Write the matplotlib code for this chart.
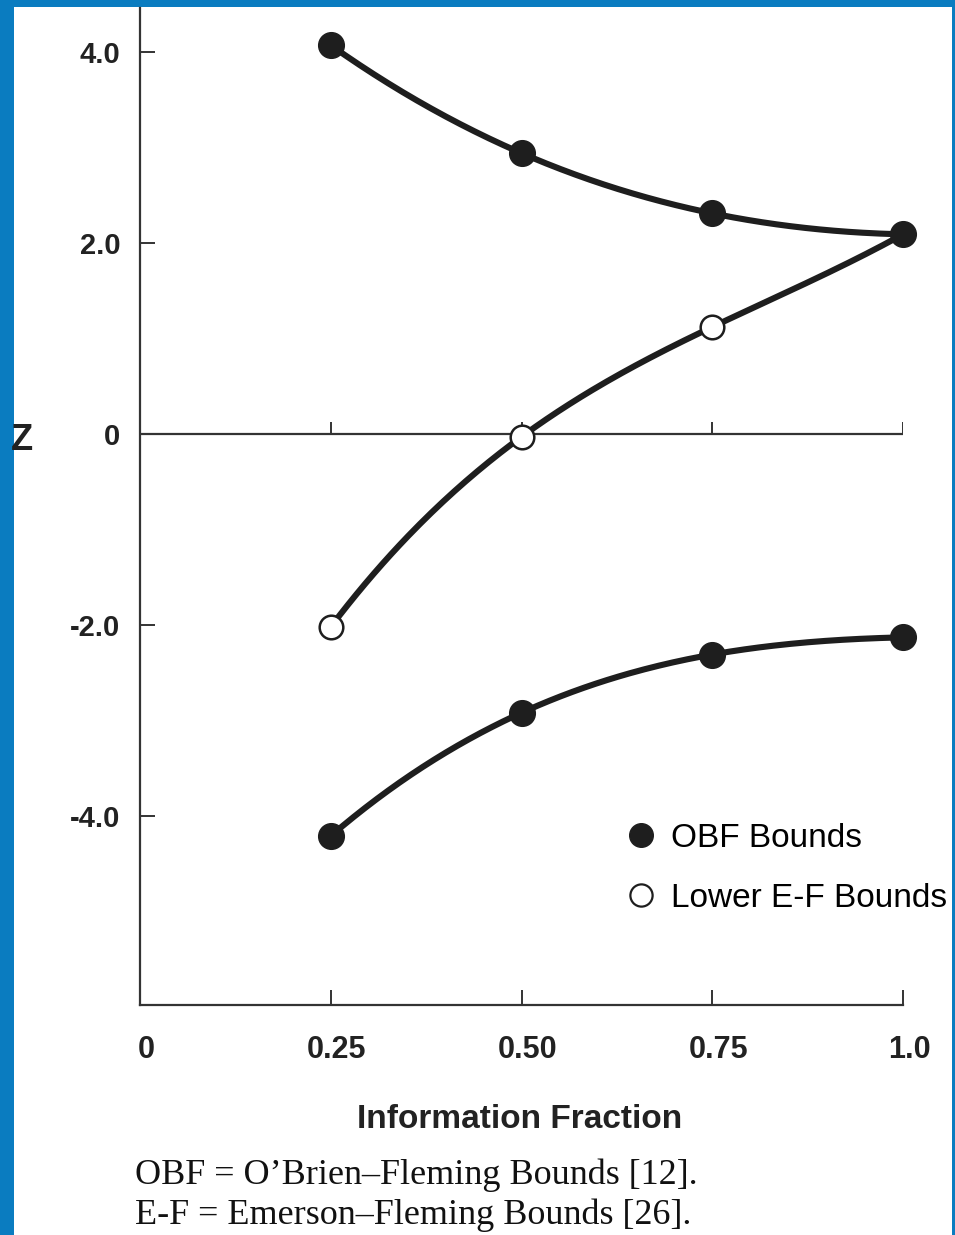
import numpy as np
import matplotlib

matplotlib.use("Agg")
import matplotlib.pyplot as plt
from matplotlib.lines import Line2D
from matplotlib.patches import Rectangle

# --------------------------------------------------------------------------- #
#  Data
# --------------------------------------------------------------------------- #
info_frac = [0.25, 0.50, 0.75, 1.0]
obf_upper = [4.07, 2.94, 2.31, 2.09]
obf_lower = [-4.21, -2.92, -2.31, -2.13]
ef_lower = [-2.02, -0.03, 1.12, 2.09]

x_ticks = [0, 0.25, 0.50, 0.75, 1.0]
x_ticklabels = ["0", "0.25", "0.50", "0.75", "1.0"]
y_ticks = [-4.0, -2.0, 0, 2.0, 4.0]
y_ticklabels = ["-4.0", "-2.0", "0", "2.0", "4.0"]

INK = "#1e1e1e"
AXC = "#333333"
BLUE = "#0a7cc0"
SANS = ["Liberation Sans", "DejaVu Sans"]
W, H = 955, 1235


def smooth(x, y, n=200):
    # cubic through the four plotted points, just for a smooth stroke
    c = np.polyfit(x, y, len(x) - 1)
    xs = np.linspace(min(x), max(x), n)
    return xs, np.polyval(c, xs)


fig = plt.figure(figsize=(W / 100, H / 100), dpi=100)
fig.patch.set_facecolor(BLUE)
fig.add_artist(Rectangle((14 / W, 0), (952 - 14) / W, (H - 7) / H,
                         transform=fig.transFigure, facecolor="white",
                         edgecolor="none", zorder=0))

ax = fig.add_axes([140 / W, (H - 1005) / H, (903 - 140) / W, (1005 - 8) / H])
ax.set_facecolor("none")
ax.set_xlim(0, 1.0)
ax.set_ylim(-5.98, 4.46)

for s in ("top", "right"):
    ax.spines[s].set_visible(False)
for s in ("left", "bottom"):
    ax.spines[s].set_color(AXC)
    ax.spines[s].set_linewidth(1.6)

ax.set_xticks(x_ticks[1:])
ax.set_xticklabels([])
ax.set_yticks(y_ticks)
ax.set_yticklabels(y_ticklabels, fontsize=21, fontweight="bold",
                   family=SANS, color="#222222")
ax.tick_params(axis="x", direction="in", length=11, width=1.4, color=AXC)
ax.tick_params(axis="y", direction="in", length=11, width=1.4, color=AXC,
               pad=14)
# x labels include the origin "0" which sits under the spine corner
for xv, lab in zip(x_ticks, x_ticklabels):
    ax.text(xv + 0.008, -6.45, lab, ha="center", va="center", fontsize=22,
            fontweight="bold", family=SANS, color="#222222", clip_on=False)

# zero line with small upward ticks
ax.axhline(0, color=AXC, lw=1.6, zorder=1)
ax.vlines(info_frac, 0, 0.12, color=AXC, lw=1.4, zorder=1)

# curves
for ys in (obf_upper, obf_lower, ef_lower):
    xs, yy = smooth(info_frac, ys)
    ax.plot(xs, yy, color=INK, lw=4.4, solid_capstyle="round", zorder=2,
            clip_on=False)

ax.plot(info_frac, obf_upper, "o", color=INK, ms=18.5, zorder=3, clip_on=False)
ax.plot(info_frac, obf_lower, "o", color=INK, ms=18.5, zorder=3, clip_on=False)
ax.plot(info_frac[:3], ef_lower[:3], "o", mfc="white", mec=INK, mew=1.8,
        ms=17, zorder=3, clip_on=False)

# axis labels
fig.text(22 / W, 1 - 440 / H, "Z", ha="center", va="center", fontsize=26,
         fontweight="bold", family=SANS, color="#222222")
fig.text(520 / W, 1 - 1120 / H, "Information Fraction", ha="center",
         va="center", fontsize=24, fontweight="bold", family=SANS,
         color="#222222")

# legend
handles = [
    Line2D([], [], marker="o", ls="none", mfc=INK, mec=INK, ms=17),
    Line2D([], [], marker="o", ls="none", mfc="white", mec=INK, mew=1.6,
           ms=16),
]
ax.legend(handles, ["OBF Bounds", "Lower E-F Bounds"], loc="upper left",
          bbox_to_anchor=(613 / W, 1 - 806 / H),
          bbox_transform=fig.transFigure, frameon=False,
          prop={"family": SANS, "size": 24}, handlelength=0.7,
          handletextpad=0.55, labelspacing=0.88, borderpad=0)

# caption
cap = {"family": ["Liberation Serif", "DejaVu Serif"], "size": 26,
       "color": "#111111"}
fig.text(135 / W, 1 - 1184 / H, "OBF = O\u2019Brien\u2013Fleming Bounds [12].",
         va="baseline", ha="left", **cap)
fig.text(135 / W, 1 - 1224 / H, "E-F = Emerson\u2013Fleming Bounds [26].",
         va="baseline", ha="left", **cap)

fig.savefig("out.png", dpi=100, facecolor=fig.get_facecolor())
